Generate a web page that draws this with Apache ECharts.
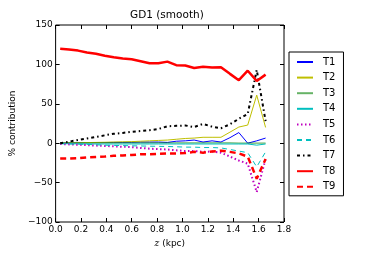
<!DOCTYPE html>
<html>
<head>
<meta charset="utf-8">
<script src="https://cdn.jsdelivr.net/npm/echarts@6/dist/echarts.min.js"></script>
<style>html,body{margin:0;padding:0;background:#fff}#c{width:382px;height:254px}</style>
</head>
<body>
<div id="c"></div>
<script>
var zValues = [0.036,0.106,0.177,0.247,0.318,0.388,0.458,0.529,0.599,0.670,0.740,0.810,0.881,0.951,1.022,1.092,1.162,1.233,1.303,1.374,1.444,1.514,1.585,1.655];
var T1 = [0,0.3,0.5,0.5,0.7,0.8,1,1,1.2,1.5,1.5,1.5,1,2.5,3,4,1.5,3,1.5,7,13.5,0,3,6.5];
var T2 = [0,0.3,0.5,0.8,1,1.2,1.5,1.8,2,2.5,3,3.5,4,5,6,6.5,7.5,7.5,7.5,14,20.5,23,61,20];
var T3 = [0.5,0.5,0.5,0.5,0.5,0.5,0.5,0.5,0.5,0.5,0.5,0.5,0.5,0.3,0.3,0.3,0.3,0.3,0.3,0.3,0.2,0.2,0,0];
var T4 = [-0.5,-0.7,-0.8,-1,-1,-1,-1,-1,-1,-1,-1,-1,-1,-1,-1,-1,-1,-1,-1,-1,-1,-1,-2.5,-1];
var T5 = [-1,-1.5,-2,-2.5,-3,-3.5,-4,-4.5,-5,-6,-7,-7.5,-8,-9,-10,-10,-11,-10.5,-12,-17,-22,-26,-62,-20];
var T6 = [-0.5,-1,-1.2,-1.5,-2,-2.5,-2.8,-3,-3.3,-3.5,-3.8,-4,-4.2,-4.5,-5,-5,-5.5,-5.5,-6,-8,-10,-12,-30,-11];
var T7 = [0,2,4,6,8,10,12,13,14.5,15.5,16.5,18,21.5,22,22.5,20.5,24.5,21,19,24,31,37,93,28];
var T8 = [120,119,117.5,115,113.5,111,109,107.5,106.5,104,101.5,101.5,103.5,99,98.5,95.5,97,96,96.5,88,80,92,79,87];
var T9 = [-19.5,-19.5,-19,-18,-17.5,-17,-16,-15.5,-15,-14,-14,-13.5,-13,-13,-12.5,-11,-12,-10.5,-9.5,-11,-13,-17,-45,-20];
var seriesNames = ['T1','T2','T3','T4','T5','T6','T7','T8','T9'];
var xTicks = {min:0, max:1.8, interval:0.2};
var yTicks = {min:-100, max:150, interval:50};

var seriesData = [T1,T2,T3,T4,T5,T6,T7,T8,T9];
var styles = [
  {color:'#0000ff', width:1, type:'solid'},
  {color:'#bfbf00', width:1, type:'solid'},
  {color:'#008000', width:1.2, type:'solid', opacity:0.6},
  {color:'#00bfbf', width:1, type:'solid'},
  {color:'#bf00bf', width:2, type:[1.5,2.5]},
  {color:'#00bfbf', width:1, type:[5,4]},
  {color:'#000000', width:2, type:[3,3,1.5,3]},
  {color:'#ff0000', width:2.5, type:'solid'},
  {color:'#ff0000', width:2.5, type:[6,4]}
];
function pair(arr){ return arr.map(function(v,i){return [zValues[i], v];}); }
var series = seriesNames.map(function(n,i){
  var s = styles[i];
  return {name:n, type:'line', data:pair(seriesData[i]), symbol:'none', showSymbol:false, animation:false,
    xAxisIndex:0, yAxisIndex:0,
    lineStyle:{color:s.color, width:s.width, type:s.type, opacity:s.opacity==null?1:s.opacity},
    itemStyle:{color:s.color}};
});
var font = 'DejaVu Sans';
var minus = function(v){ return v < 0 ? '\u2212' + Math.abs(v) : String(v); };
var tick = {inside:true, length:4, lineStyle:{color:'#000'}};
var noLine = {show:false, onZero:false};
var chart = echarts.init(document.getElementById('c'), null, {renderer:'canvas'});
chart.setOption({
  animation:false,
  backgroundColor:'#ffffff',
  title:{text:'GD1 (smooth)', left:130, top:10, padding:0, textStyle:{fontFamily:font, fontSize:10.5, fontWeight:'normal', color:'#000'}},
  grid:{left:47, right:98, top:25, bottom:32, show:true, borderColor:'#000', borderWidth:1, backgroundColor:'transparent'},
  legend:{orient:'vertical', left:289, top:52, itemWidth:16, itemHeight:10, itemGap:5.6, padding:[5,8,4,7],
    borderColor:'#000', borderWidth:1, backgroundColor:'#fff',
    itemStyle:{opacity:0, borderWidth:0},
    textStyle:{fontFamily:font, fontSize:10, color:'#000', padding:[0,0,0,5]},
    data:seriesNames},
  xAxis:[{type:'value', min:xTicks.min, max:xTicks.max, interval:xTicks.interval, position:'bottom',
    name:'{i|z} (kpc)', nameLocation:'middle', nameGap:15,
    nameTextStyle:{fontFamily:font, fontSize:9, color:'#000', rich:{i:{fontFamily:'DejaVu Serif', fontStyle:'italic', fontSize:9, color:'#000'}}},
    axisLine:noLine, splitLine:{show:false}, axisTick:tick,
    axisLabel:{margin:3, fontFamily:font, fontSize:9, color:'#000', formatter:function(v){return v.toFixed(1);}}},
   {type:'value', min:xTicks.min, max:xTicks.max, interval:xTicks.interval, position:'top',
    axisLine:noLine, splitLine:{show:false}, axisLabel:{show:false}, axisTick:tick}],
  yAxis:[{type:'value', min:yTicks.min, max:yTicks.max, interval:yTicks.interval, position:'left',
    name:'% contribution', nameLocation:'middle', nameGap:31,
    nameTextStyle:{fontFamily:font, fontSize:9, color:'#000'},
    axisLine:noLine, splitLine:{show:false}, axisTick:tick,
    axisLabel:{margin:3, fontFamily:font, fontSize:9, color:'#000', formatter:minus}},
   {type:'value', min:yTicks.min, max:yTicks.max, interval:yTicks.interval, position:'right',
    axisLine:noLine, splitLine:{show:false}, axisLabel:{show:false}, axisTick:tick}],
  series:series
});
</script>
</body>
</html>
